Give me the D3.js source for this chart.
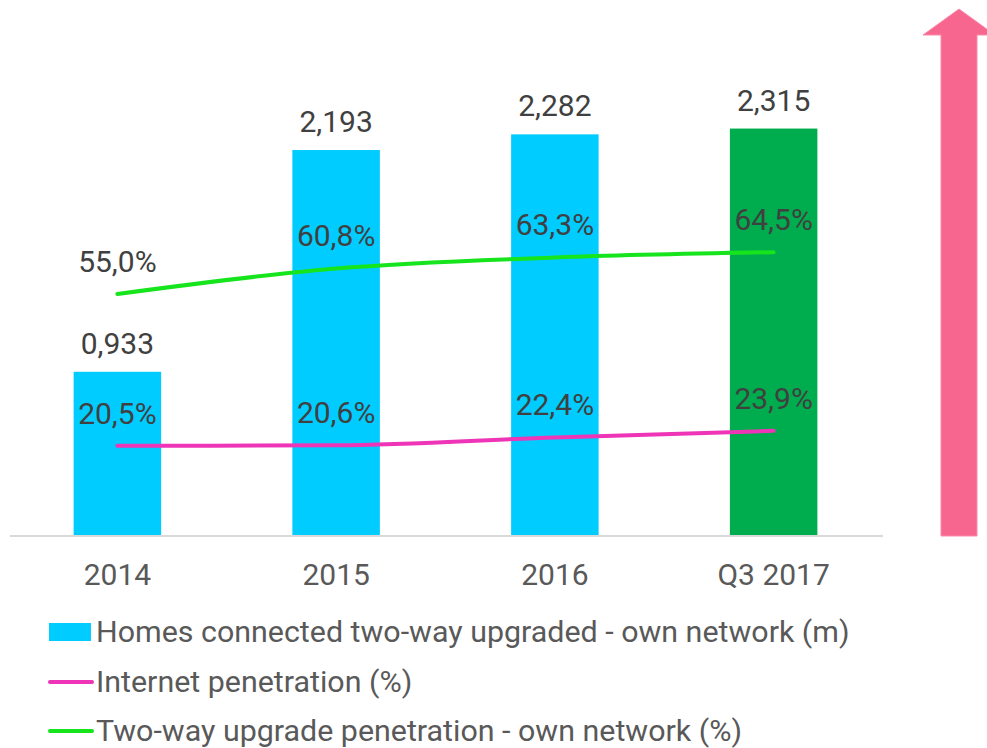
<!DOCTYPE html>
<html>
<head>
<meta charset="utf-8">
<script src="https://cdn.jsdelivr.net/npm/d3@7"></script>
<style>
  html, body { margin: 0; padding: 0; background: #fff; }
  svg { display: block; font-family: Roboto, "Noto Sans", sans-serif; }
</style>
</head>
<body>
<svg id="chart" width="987" height="748"></svg>
<script>
// 数据
const categories = ["2014", "2015", "2016", "Q3 2017"];
const homesConnected = [0.933, 2.193, 2.282, 2.315];
const internetPenetration = [20.5, 20.6, 22.4, 23.9];
const upgradePenetration = [55.0, 60.8, 63.3, 64.5];
const barColors = ["#00CCFF", "#00CCFF", "#00CCFF", "#00AD4E"];
const legendLabels = [
  "Homes connected two-way upgraded - own network (m)",
  "Internet penetration (%)",
  "Two-way upgrade penetration - own network (%)"
];

const svg = d3.select("#chart");
const fmt3 = (v) => d3.format(".3f")(v).replace(".", ",");
const fmtPct = (v) => d3.format(".1f")(v).replace(".", ",") + "%";

const baseY = 536;
const x = d3.scaleBand().domain(categories).range([8, 883])
  .paddingInner(0.6).paddingOuter(0.3);
const y = d3.scaleLinear().domain([0, 3]).range([baseY, 8]);
const y2 = d3.scaleLinear().domain([0, 120]).range([baseY, 8]);
const cx = (d) => x(d) + x.bandwidth() / 2;

// 柱子
svg.append("g")
  .selectAll("rect")
  .data(homesConnected)
  .enter()
  .append("rect")
  .attr("x", (d, i) => x(categories[i]))
  .attr("y", (d) => y(d))
  .attr("width", x.bandwidth())
  .attr("height", (d) => baseY - y(d))
  .attr("fill", (d, i) => barColors[i]);

// 横轴
const xAxis = svg.append("g")
  .attr("transform", `translate(0,${baseY})`)
  .call(d3.axisBottom(x).tickSize(0).tickPadding(28));
xAxis.select(".domain").attr("stroke", "#D9D9D9").attr("stroke-width", 2)
  .attr("d", "M10,0H883");
xAxis.selectAll("text")
  .style("font-size", "30px")
  .style("font-family", "Roboto")
  .attr("fill", "#595959");

// 折线
const lineFor = (scale) => d3.line()
  .x((d, i) => cx(categories[i]))
  .y((d) => scale(d))
  .curve(d3.curveMonotoneX);

svg.append("path")
  .datum(internetPenetration)
  .attr("d", lineFor(y2))
  .attr("fill", "none")
  .attr("stroke", "#EE35B8")
  .attr("stroke-width", 4)
  .attr("stroke-linecap", "round");

svg.append("path")
  .datum(upgradePenetration)
  .attr("d", lineFor(y2))
  .attr("fill", "none")
  .attr("stroke", "#16E41C")
  .attr("stroke-width", 4)
  .attr("stroke-linecap", "round");

// 数值标签
const labelStyle = (sel) => sel
  .attr("text-anchor", "middle")
  .style("font-size", "30px")
  .attr("fill", "#404040");

svg.append("g")
  .selectAll("text")
  .data(homesConnected)
  .enter()
  .append("text")
  .attr("x", (d, i) => cx(categories[i]))
  .attr("y", (d) => y(d) - 18)
  .text(fmt3)
  .call(labelStyle);

[internetPenetration, upgradePenetration].forEach((series) => {
  svg.append("g")
    .selectAll("text")
    .data(series)
    .enter()
    .append("text")
    .attr("x", (d, i) => cx(categories[i]))
    .attr("y", (d) => y2(d) - 22)
    .text(fmtPct)
    .call(labelStyle);
});

// 右侧箭头
svg.append("path")
  .attr("d", "M941,536V35H923L959,9L995,35H977V536Z")
  .attr("fill", "#F7668F")
  .attr("stroke", "#FA8AAA")
  .attr("stroke-width", 1);

// 图例
const legend = svg.append("g");
const legendY = [632, 682, 731];
legend.append("rect")
  .attr("x", 49).attr("y", legendY[0] - 9)
  .attr("width", 42).attr("height", 18)
  .attr("fill", "#00CCFF");
legend.append("line")
  .attr("x1", 50).attr("x2", 92).attr("y1", legendY[1]).attr("y2", legendY[1])
  .attr("stroke", "#EE35B8").attr("stroke-width", 4).attr("stroke-linecap", "round");
legend.append("line")
  .attr("x1", 50).attr("x2", 92).attr("y1", legendY[2]).attr("y2", legendY[2])
  .attr("stroke", "#16E41C").attr("stroke-width", 4).attr("stroke-linecap", "round");
legend.selectAll("text")
  .data(legendLabels)
  .enter()
  .append("text")
  .attr("x", 96)
  .attr("y", (d, i) => legendY[i] + 10)
  .text((d) => d)
  .style("font-size", "30.4px")
  .attr("fill", "#595959");
</script>
</body>
</html>
